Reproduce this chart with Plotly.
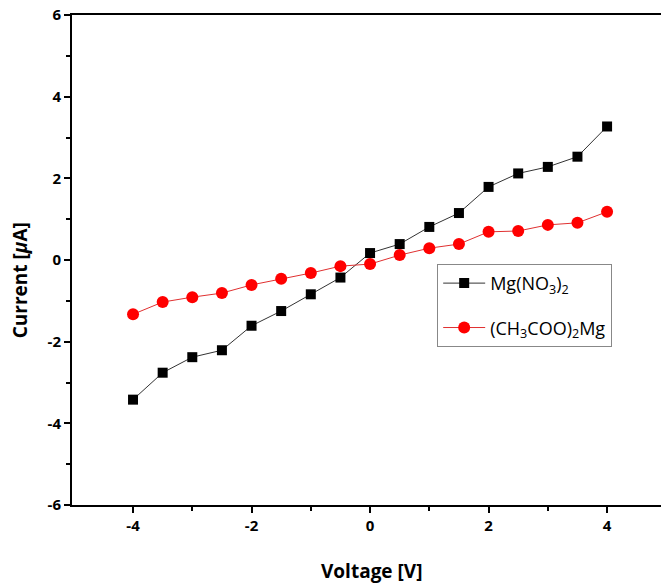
import plotly.graph_objects as go

voltage = [-4, -3.5, -3, -2.5, -2, -1.5, -1, -0.5, 0, 0.5, 1, 1.5, 2, 2.5, 3, 3.5, 4]
mg_no3 = [-3.42, -2.76, -2.38, -2.21, -1.61, -1.25, -0.84, -0.43, 0.17, 0.39, 0.81, 1.15, 1.79, 2.12, 2.28, 2.53, 3.27]
mg_acetate = [-1.33, -1.03, -0.91, -0.81, -0.61, -0.46, -0.32, -0.15, -0.10, 0.12, 0.29, 0.39, 0.69, 0.71, 0.86, 0.91, 1.18]

x_ticks = [-4, -2, 0, 2, 4]
y_ticks = [-6, -4, -2, 0, 2, 4, 6]
x_title = "Voltage [V]"
y_title = "Current [<i>μ</i>A]"

fig = go.Figure()
fig.add_trace(go.Scatter(
    x=voltage, y=mg_no3, mode="lines+markers",
    name="Mg(NO<sub>3</sub>)<sub>2</sub>", legendgroup="a",
    line=dict(color="#333333", width=1),
    marker=dict(symbol="square", size=10, color="black"),
))
fig.add_trace(go.Scatter(
    x=voltage, y=mg_acetate, mode="lines+markers",
    name="(CH<sub>3</sub>COO)<sub>2</sub>Mg", legendgroup="b",
    line=dict(color="#e03030", width=1),
    marker=dict(symbol="circle", size=12, color="#ff0000"),
))

font_family = "Open Sans, Liberation Sans, sans-serif"

fig.update_layout(
    width=661, height=588,
    margin=dict(l=72, r=0, t=15, b=83),
    paper_bgcolor="white", plot_bgcolor="white",
    font=dict(family=font_family, color="black"),
    showlegend=True,
    legend=dict(
        x=0.62, y=0.492, xanchor="left", yanchor="top",
        bordercolor="#888888", borderwidth=1, bgcolor="white",
        font=dict(size=18, family=font_family, color="black"),
        tracegroupgap=18, itemwidth=42,
    ),
    annotations=[
        dict(text="<b>%s</b>" % x_title, xref="paper", yref="paper",
             x=0.508, y=-0.135, xanchor="center", yanchor="middle",
             showarrow=False, font=dict(size=19, family=font_family)),
        dict(text="<b>%s</b>" % y_title, xref="paper", yref="paper",
             x=-0.088, y=0.459, xanchor="center", yanchor="middle", textangle=-90,
             showarrow=False, font=dict(size=19, family=font_family)),
    ],
)

fig.update_xaxes(
    range=[-5.03, 4.91], automargin=False,
    tickvals=x_ticks, ticktext=["<b>%d</b>" % v for v in x_ticks],
    ticks="outside", ticklen=6, tickwidth=1.5, tickcolor="black",
    minor=dict(tickvals=[-3, -1, 1, 3], ticks="outside", ticklen=4, tickwidth=1.5, tickcolor="black"),
    showline=True, linecolor="black", linewidth=2, mirror=True,
    showgrid=False, zeroline=False,
    tickfont=dict(size=15, family=font_family),
)
fig.update_yaxes(
    range=[-6, 6], automargin=False,
    tickvals=y_ticks, ticktext=["<b>%d</b>" % v for v in y_ticks],
    ticks="outside", ticklen=6, tickwidth=1.5, tickcolor="black",
    minor=dict(tickvals=[-5, -3, -1, 1, 3, 5], ticks="outside", ticklen=4, tickwidth=1.5, tickcolor="black"),
    showline=True, linecolor="black", linewidth=2,
    showgrid=False, zeroline=False,
    tickfont=dict(size=15, family=font_family),
)

fig.write_html("out.html", config={"displayModeBar": False},
               post_script="document.body.style.margin='0';")
